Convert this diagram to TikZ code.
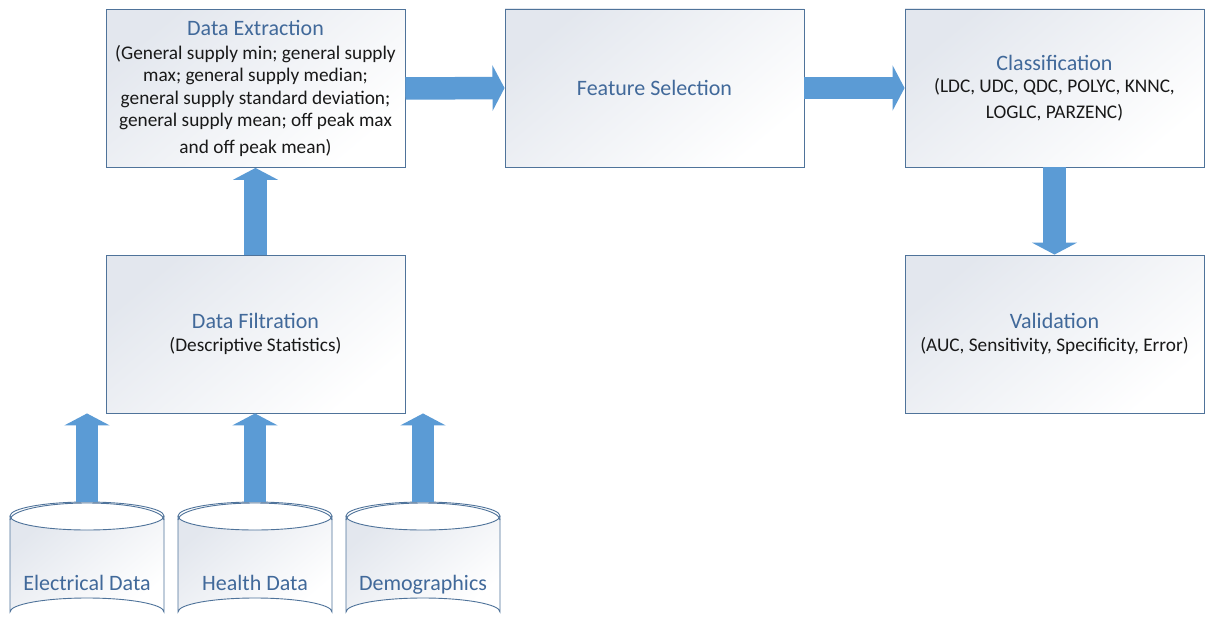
\documentclass[tikz,border=0pt]{standalone}
\usepackage{fontspec}
\setmainfont{Carlito}
\usetikzlibrary{arrows.meta}
\definecolor{boxborder}{HTML}{4F739A}
\definecolor{titleblue}{HTML}{41699A}
\definecolor{arrowblue}{HTML}{5B9BD5}
\definecolor{shadetop}{HTML}{E3E7EE}
\newcommand\ttl[1]{{\color{titleblue}\fontsize{22}{26}\selectfont #1}}
\tikzset{
  box/.style={draw=boxborder, line width=0.9pt, minimum width=299pt, minimum height=158pt,
    top color=shadetop, bottom color=white, shading angle=40, align=center, inner sep=0pt,
    text=black!90, font=\fontsize{19.3}{22.5}\selectfont},
  bigarrow/.style={draw=arrowblue, line width=22.5pt, -{Triangle[length=12pt,width=45pt]}},
  cyl/.style={draw=boxborder, line width=0.9pt},
  cyllabel/.style={text=titleblue, font=\fontsize{22}{26}\selectfont, inner sep=0pt, anchor=base}
}
\begin{document}
\begin{tikzpicture}[x=1pt,y=-1pt]
\useasboundingbox (0,0) rectangle (1205,618);
\clip (0,0) rectangle (1205,618);
\fill[white] (0,0) rectangle (1205,618);

% boxes
\node[box] (ext) at (255.5,88.5) {\ttl{Data Extraction}\\[1pt]
(General supply min; general supply\\ max; general supply median;\\ general supply standard deviation;\\ general supply mean; off peak max\\[4pt] and off peak mean)};
\node[box] (fs) at (654.5,88) {\ttl{Feature Selection}};
\node[box] (cls) at (1054.5,88) {\ttl{Classification}\\[0pt] (LDC, UDC, QDC, POLYC, KNNC,\\[3pt] LOGLC, PARZENC)};
\node[box] (val) at (1054.5,334) {\ttl{Validation}\\[0pt] (AUC, Sensitivity, Specificity, Error)};
\node[box] (filt) at (255.5,334) {\ttl{Data Filtration}\\[0pt] (Descriptive Statistics)};

% cylinders
\foreach \cx/\nm/\lbl in {87/cA/Electrical Data, 255/cB/Health Data, 423/cC/Demographics}{
  \shade[top color=shadetop, bottom color=white, shading angle=40]
    (\cx-77,516) -- (\cx-77,612) arc[start angle=180, end angle=360, x radius=77, y radius=14]
    -- (\cx+77,516) arc[start angle=0, end angle=180, x radius=77, y radius=14] -- cycle;
  \draw[cyl] (\cx-77,516) -- (\cx-77,612) arc[start angle=180, end angle=360, x radius=77, y radius=14] -- (\cx+77,516);
  \draw[cyl] (\cx,516) ellipse[x radius=77, y radius=14];
  \draw[cyl] (\cx-77,520) arc[start angle=180, end angle=360, x radius=77, y radius=17];
  \coordinate (\nm top) at (\cx,502);
  \node[cyllabel] (\nm) at (\cx,590) {\lbl};
}

% arrows
\draw[bigarrow] (ext.east) -- (fs.west);
\draw[bigarrow] (fs.east) -- (cls.west);
\draw[bigarrow] (cls.south) -- (val.north);
\draw[bigarrow] (filt.north) -- (ext.south);
\draw[bigarrow] (cAtop) -- (filt.south -| cAtop);
\draw[bigarrow] (cBtop) -- (filt.south -| cBtop);
\draw[bigarrow] (cCtop) -- (filt.south -| cCtop);
\end{tikzpicture}
\end{document}
